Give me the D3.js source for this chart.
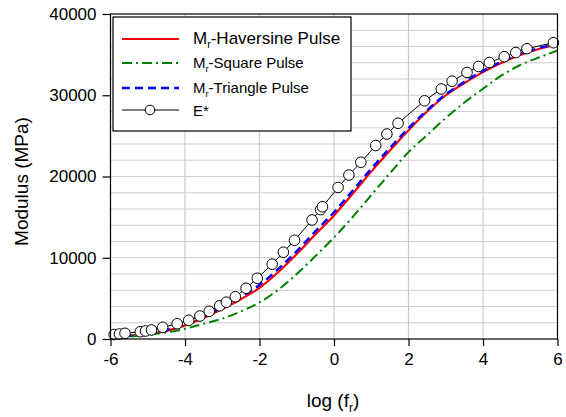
<!DOCTYPE html>
<html><head><meta charset="utf-8">
<script src="https://cdn.jsdelivr.net/npm/d3@7"></script>
<style>
body{margin:0;background:#fff}
svg{display:block}
text{font-family:"Liberation Sans",Arial,sans-serif;fill:#000}
</style>
</head><body>
<svg id="chart" width="566" height="417"></svg>
<script>
// ---- data ----
const curveX = [-6,-5.5,-5,-4.5,-4,-3.5,-3,-2.5,-2,-1.5,-1,-0.5,0,0.5,1,1.5,2,2.5,3,3.5,4,4.5,5,5.5,6];
const haversine = [180,400,620,1000,1680,2600,3700,4900,6300,8220,10450,12870,15210,17880,20600,23200,25700,28000,30000,31500,32850,34000,34950,35700,36250];
const squarePulse = [150,300,520,800,1250,1880,2500,3400,4500,6050,8000,10200,12500,15000,17700,20400,23000,25100,27200,29100,30800,32450,33720,34650,35500];
const trianglePulse = [200,430,680,1080,1800,2780,3950,5200,6650,8600,10800,13250,15600,18250,20950,23500,25950,28150,30100,31650,33000,34150,35100,35800,36350];
const eStarX = [-5.90,-5.76,-5.61,-5.20,-5.06,-4.90,-4.60,-4.21,-3.90,-3.60,-3.35,-3.07,-2.89,-2.65,-2.36,-2.06,-1.66,-1.36,-1.06,-0.59,-0.36,-0.31,0.11,0.40,0.72,1.12,1.42,1.72,2.43,2.88,3.17,3.57,3.88,4.17,4.57,4.88,5.18,5.89];
const eStarY = [550,615,700,900,985,1110,1440,1880,2300,2830,3410,4085,4530,5200,6240,7470,9210,10680,12150,14650,15930,16280,18650,20180,21750,23815,25230,26550,29320,30770,31730,32800,33540,34030,34740,35260,35730,36470];
const xTicks = [-6,-4,-2,0,2,4,6];
const yTicks = [0,10000,20000,30000,40000];
const xGrid = [-4,-2,0,2,4];
const yGrid = d3.range(2000, 40000, 2000);
const legendNames = ["Haversine Pulse","Square Pulse","Triangle Pulse","E*"];

// ---- layout ----
const svg = d3.select("#chart");
const L = 110.5, R = 557.5, T = 14, B = 339;
const x = d3.scaleLinear().domain([-6,6]).range([L,R]);
const y = d3.scaleLinear().domain([0,40000]).range([B,T]);

svg.append("rect").attr("width",566).attr("height",417).attr("fill","#fff");

// grid
const g = svg.append("g");
g.selectAll("line.h").data(yGrid).join("line")
  .attr("x1",L).attr("x2",R).attr("y1",d=>y(d)).attr("y2",d=>y(d))
  .attr("stroke","#cccccc").attr("stroke-width",1.2);
g.selectAll("line.v").data(xGrid).join("line")
  .attr("y1",T).attr("y2",B).attr("x1",d=>x(d)).attr("x2",d=>x(d))
  .attr("stroke","#cccccc").attr("stroke-width",1.2);

// curves
const line = d3.line().x(d=>x(d[0])).y(d=>y(d[1])).curve(d3.curveMonotoneX);
const series = [
  {vals: haversine, color:"#ff0000", dash:null, w:2.2},
  {vals: squarePulse, color:"#008000", dash:"10,4,2,4", w:2},
  {vals: trianglePulse, color:"#0000ff", dash:"8,5", w:2.5}
];
series.forEach(s=>{
  svg.append("path").datum(curveX.map((cx,i)=>[cx,s.vals[i]]))
    .attr("d",line).attr("fill","none").attr("stroke",s.color)
    .attr("stroke-width",s.w).attr("stroke-dasharray",s.dash);
});
const ePts = eStarX.map((cx,i)=>[cx,eStarY[i]]);
svg.append("path").datum(ePts).attr("d",d3.line().x(d=>x(d[0])).y(d=>y(d[1])))
  .attr("fill","none").attr("stroke","#000").attr("stroke-width",1);
svg.append("g").selectAll("circle").data(ePts).join("circle")
  .attr("cx",d=>x(d[0])).attr("cy",d=>y(d[1])).attr("r",5.3)
  .attr("fill","#fff").attr("stroke","#000").attr("stroke-width",1);

// frame
svg.append("rect").attr("x",L).attr("y",T).attr("width",R-L).attr("height",B-T)
  .attr("fill","none").attr("stroke","#000").attr("stroke-width",1.2);

// axes
const xa = svg.append("g").attr("transform",`translate(0,${B})`)
  .call(d3.axisBottom(x).tickValues(xTicks).tickSize(7).tickSizeOuter(0).tickPadding(7).tickFormat(d=>String(d)));
const ya = svg.append("g").attr("transform",`translate(${L},0)`)
  .call(d3.axisLeft(y).tickValues(yTicks).tickSize(8).tickSizeOuter(0).tickPadding(6).tickFormat(d=>String(d)));
[xa,ya].forEach(a=>{
  a.select(".domain").remove();
  a.selectAll("line").attr("stroke","#000").attr("stroke-width",1.2);
  a.selectAll("text").attr("font-size",17).attr("font-family","'Liberation Sans',Arial,sans-serif").attr("fill","#000");
});

// axis titles
const xt = svg.append("text").attr("x",333).attr("y",407).attr("text-anchor","middle").attr("font-size",19);
xt.append("tspan").text("log (f");
xt.append("tspan").text("r").attr("font-size",12).attr("dy",5);
xt.append("tspan").text(")").attr("dy",-5);
svg.append("text").attr("transform","translate(28,181.5) rotate(-90)")
  .attr("text-anchor","middle").attr("font-size",19).text("Modulus (MPa)");

// legend
const lg = svg.append("g");
lg.append("rect").attr("x",113).attr("y",17).attr("width",238).attr("height",114)
  .attr("fill","#fff").attr("stroke","#000").attr("stroke-width",1.2);
const rowsY = [39,63,88,110];
const fs = [17,15,15,15];
[0,1,2].forEach(i=>{
  lg.append("line").attr("x1",122).attr("x2",179).attr("y1",rowsY[i]).attr("y2",rowsY[i])
    .attr("stroke",series[i].color).attr("stroke-width",series[i].w).attr("stroke-dasharray",series[i].dash);
  const t = lg.append("text").attr("x",193).attr("y",rowsY[i]+5.3).attr("font-size",fs[i]);
  t.append("tspan").text("M");
  t.append("tspan").text("r").attr("font-size",fs[i]*0.62).attr("dy",4);
  t.append("tspan").text("-" + legendNames[i]).attr("dy",-4);
});
lg.append("line").attr("x1",122).attr("x2",179).attr("y1",rowsY[3]).attr("y2",rowsY[3])
  .attr("stroke","#000").attr("stroke-width",1);
lg.append("circle").attr("cx",150).attr("cy",rowsY[3]).attr("r",4.8).attr("fill","#fff").attr("stroke","#000");
lg.append("text").attr("x",193).attr("y",rowsY[3]+5.5).attr("font-size",fs[3]).text(legendNames[3]);
</script>
</body></html>
